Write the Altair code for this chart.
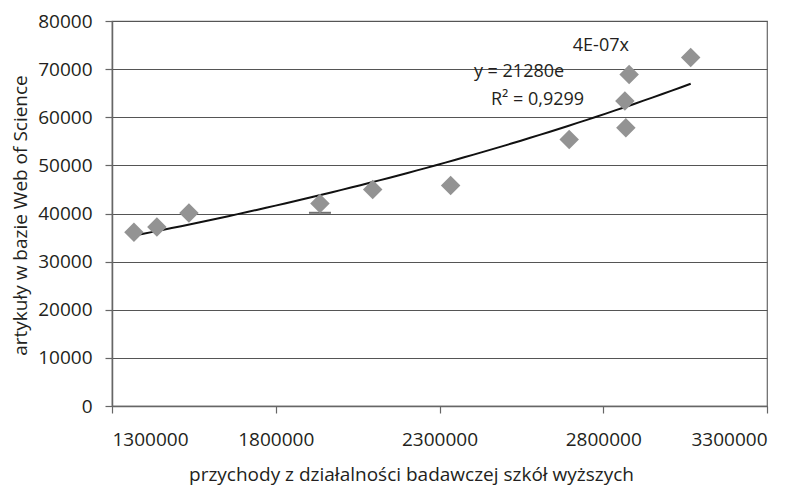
import altair as alt
import numpy as np
import pandas as pd

# data
revenue = [1367000, 1437000, 1535000, 1935000, 2096000, 2334000,
           2696000, 2869000, 2866000, 2879000, 3067000]
articles = [36100, 37200, 40100, 42100, 45000, 45800,
            55400, 57800, 63400, 68900, 72400]

x_ticks = [1300000, 1800000, 2300000, 2800000, 3300000]
y_ticks = [0, 10000, 20000, 30000, 40000, 50000, 60000, 70000, 80000]

eq_texts = ["4E-07x", "y = 21280e", "R\u00b2 = 0,9299"]
eq_x = [2707000, 2405000, 2457000]
eq_y = [74900, 69500, 63500]

stray_x = [1935000]
stray_y = [40150]

FONT = "Open Sans"
TXT = "#231f20"
LINE = "#666666"

df = pd.DataFrame({"x": revenue, "y": articles})

# exponential trend line as Excel computes it (least squares on ln y)
b, ln_a = np.polyfit(np.array(revenue, float), np.log(np.array(articles, float)), 1)
tx = np.linspace(min(revenue), max(revenue), 60)
trend_df = pd.DataFrame({"x": tx, "y": np.exp(ln_a) * np.exp(b * tx)})

ann = pd.DataFrame({"x": eq_x, "y": eq_y, "t": eq_texts})
stray = pd.DataFrame({"x": stray_x, "y": stray_y})

xs = alt.Scale(domain=[1300000, 3300000], nice=False, zero=False)
ys = alt.Scale(domain=[0, 80000], nice=False)

xax = alt.Axis(values=x_ticks, format="d", grid=False, title="przychody z działalności badawczej szkół wyższych",
               labelFontSize=19, titleFontSize=19, labelPadding=17,
               titleX=299, titleY=74, titleAlign="center", titleBaseline="alphabetic",
               tickSize=7, labelFont=FONT, titleFont=FONT, labelColor=TXT, titleColor=TXT,
               titleFontWeight="normal", domainColor=LINE, tickColor=LINE, domainWidth=1.5, tickWidth=1.2)
yax = alt.Axis(values=y_ticks, format="d", grid=True, title="artykuły w bazie Web of Science",
               labelFontSize=19, titleFontSize=19, labelPadding=13,
               titleX=-86, titleY=194, titleAlign="center", titleBaseline="alphabetic", titleAngle=270,
               tickSize=7, labelFont=FONT, titleFont=FONT, labelColor=TXT, titleColor=TXT,
               titleFontWeight="normal", domainColor=LINE, tickColor=LINE, gridColor="#555555",
               gridWidth=1.2, domainWidth=1.5, tickWidth=1.2)

points = alt.Chart(df).mark_point(shape="diamond", filled=True, size=380, color="#939393", opacity=1).encode(
    x=alt.X("x:Q", scale=xs, axis=xax),
    y=alt.Y("y:Q", scale=ys, axis=yax),
)

trend = alt.Chart(trend_df).mark_line(color="#111111", strokeWidth=2).encode(
    x=alt.X("x:Q", scale=xs),
    y=alt.Y("y:Q", scale=ys),
)

stray_mark = alt.Chart(stray).mark_tick(orient="horizontal", size=22, thickness=2, color="#333333").encode(
    x=alt.X("x:Q", scale=xs),
    y=alt.Y("y:Q", scale=ys),
)

labels = alt.Chart(ann).mark_text(font=FONT, fontSize=18, color=TXT, align="left", baseline="middle").encode(
    x=alt.X("x:Q", scale=xs),
    y=alt.Y("y:Q", scale=ys),
    text="t:N",
)

chart = alt.layer(stray_mark, trend, points, labels).properties(
    width=655, height=385,
    autosize=alt.AutoSizeParams(type="none"),
    padding={"left": 112, "top": 21, "right": 35, "bottom": 80},
    background="white",
).configure_view(stroke=LINE, strokeWidth=1.2)

chart.save("out.html", embed_options={"renderer": "svg", "actions": False})
